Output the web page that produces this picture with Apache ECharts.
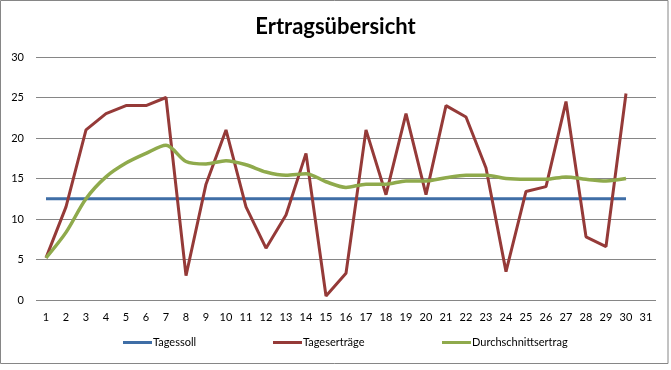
<!DOCTYPE html>
<html>
<head>
<meta charset="utf-8">
<script src="https://cdn.jsdelivr.net/npm/echarts@6/dist/echarts.min.js"></script>
<style>html,body{margin:0;padding:0;background:#fff}#c{width:671px;height:370px}</style>
</head>
<body>
<div id="c"></div>
<script>
var categories = ['1','2','3','4','5','6','7','8','9','10','11','12','13','14','15','16','17','18','19','20','21','22','23','24','25','26','27','28','29','30','31'];
var tagessoll = [12.5,12.5,12.5,12.5,12.5,12.5,12.5,12.5,12.5,12.5,12.5,12.5,12.5,12.5,12.5,12.5,12.5,12.5,12.5,12.5,12.5,12.5,12.5,12.5,12.5,12.5,12.5,12.5,12.5,12.5];
var tagesertraege = [5.2,11.5,21.0,23.0,24.0,24.0,25.0,3.0,14.3,21.0,11.5,6.4,10.5,18.1,0.5,3.3,21.0,13.0,23.0,13.0,24.0,22.6,16.3,3.5,13.4,14.0,24.5,7.8,6.6,25.5];
var durchschnitt = [5.2,8.35,12.5,15.2,16.9,18.1,19.1,17.1,16.8,17.2,16.7,15.8,15.4,15.6,14.6,13.9,14.3,14.3,14.7,14.7,15.1,15.4,15.4,15.0,14.9,14.9,15.2,14.9,14.7,15.0];
var yTicks = [0,5,10,15,20,25,30];

var chart = echarts.init(document.getElementById('c'));
var font = 'Lato, "Open Sans", sans-serif';
function legendFor(name, left) {
  return {
    data: [name], left: left, top: 337, icon: 'rect', itemWidth: 29, itemHeight: 3, itemGap: 0,
    padding: 0,
    textStyle: {fontFamily: font, fontSize: 11, color: '#000', padding: [0,0,0,-4]}
  };
}
chart.setOption({
  animation: false,
  title: {
    text: 'Ertragsübersicht', left: 'center', top: 11,
    textStyle: {fontFamily: font, fontWeight: 'bold', fontSize: 22, color: '#000'}
  },
  graphic: [{
    type: 'rect', shape: {x: 0.5, y: 0.5, width: 667.5, height: 363},
    style: {fill: 'none', stroke: '#868686', lineWidth: 1}, silent: true, z: -1
  }],
  legend: [legendFor('Tagessoll', 123), legendFor('Tageserträge', 273), legendFor('Durchschnittsertrag', 442)],
  grid: {left: 36, right: 15, top: 57, bottom: 70},
  xAxis: {
    type: 'category', data: categories, boundaryGap: true,
    axisLine: {show: false}, axisTick: {show: false},
    axisLabel: {fontFamily: font, fontSize: 11, color: '#000', margin: 12, interval: 0}
  },
  yAxis: {
    type: 'value', min: 0, max: 30, interval: 5,
    axisLine: {show: false}, axisTick: {show: false},
    axisLabel: {fontFamily: font, fontSize: 11, color: '#000', margin: 12,
      formatter: function (v) { return yTicks.indexOf(v) >= 0 ? String(v) : ''; }},
    splitLine: {lineStyle: {color: '#868686', width: 1}}
  },
  series: [
    {name: 'Tagessoll', type: 'line', data: tagessoll, showSymbol: false, symbol: 'none',
      itemStyle: {color: '#3F6EA6'}, lineStyle: {color: '#3F6EA6', width: 3}},
    {name: 'Tageserträge', type: 'line', data: tagesertraege, showSymbol: false, symbol: 'none',
      itemStyle: {color: '#953A38'}, lineStyle: {color: '#953A38', width: 3}},
    {name: 'Durchschnittsertrag', type: 'line', data: durchschnitt, showSymbol: false, symbol: 'none', smooth: 0.3,
      itemStyle: {color: '#8FAA4C'}, lineStyle: {color: '#8FAA4C', width: 3.5}}
  ]
});
</script>
</body>
</html>
